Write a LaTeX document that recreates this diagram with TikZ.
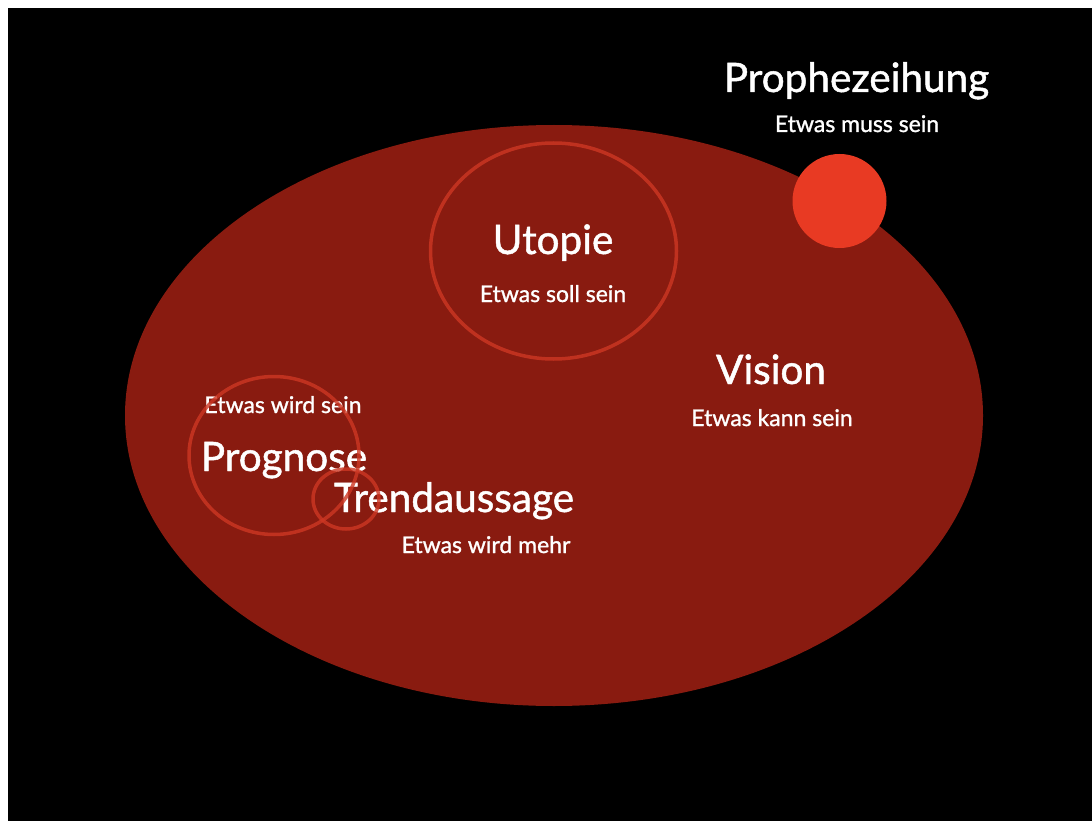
\documentclass[tikz,border=0pt]{standalone}
\usepackage{fontspec}
\setmainfont{Lato}
\newfontfamily\latoheavy[FakeBold=1.2]{Lato}
\definecolor{bigred}{RGB}{137,27,16}
\definecolor{dotred}{RGB}{232,58,35}
\definecolor{ringred}{RGB}{205,55,35}
\newcommand{\BigTxt}{\latoheavy\fontsize{40.5}{48}\selectfont}
\newcommand{\SmallTxt}{\latoheavy\fontsize{23}{28}\selectfont}
\tikzset{
  titletxt/.style={anchor=base, text=white, inner sep=0pt, font=\BigTxt},
  subtxt/.style={anchor=base, text=white, inner sep=0pt, font=\SmallTxt},
  ring/.style={draw=ringred, line width=3.5pt, draw opacity=0.8},
}
\begin{document}
\begin{tikzpicture}[x=1pt,y=-1pt]
\useasboundingbox (0,0) rectangle (1092,821);
\fill[white] (0,0) rectangle (1092,821);
\fill[black] (8,8) rectangle (1092,821);
% big ellipse
\fill[bigred] (554,415.5) ellipse [x radius=429, y radius=290.5];
% prophecy dot
\fill[dotred] (839.5,201) circle [radius=47];
% texts
\node[titletxt] (proph) at (856.5,92) {Prophezeihung};
\node[subtxt] (prophs) at (857,132) {Etwas muss sein};
\node[titletxt] (utop) at (553,254) {Utopie};
\node[subtxt] (utops) at (553,302) {Etwas soll sein};
\node[titletxt] (vis) at (771,384) {Vision};
\node[subtxt] (viss) at (772,426) {Etwas kann sein};
\node[subtxt] (progs) at (283,413) {Etwas wird sein};
\node[titletxt] (prog) at (284,471) {Prognose};
\node[titletxt] (trend) at (454,512) {Trendaussage};
\node[subtxt] (trends) at (486,553) {Etwas wird mehr};
% rings
\draw[ring] (553.5,251) ellipse [x radius=123, y radius=108];
\draw[ring] (274,455.5) ellipse [x radius=85, y radius=79];
\draw[ring] (346,499) ellipse [x radius=33, y radius=30];
\end{tikzpicture}
\end{document}
